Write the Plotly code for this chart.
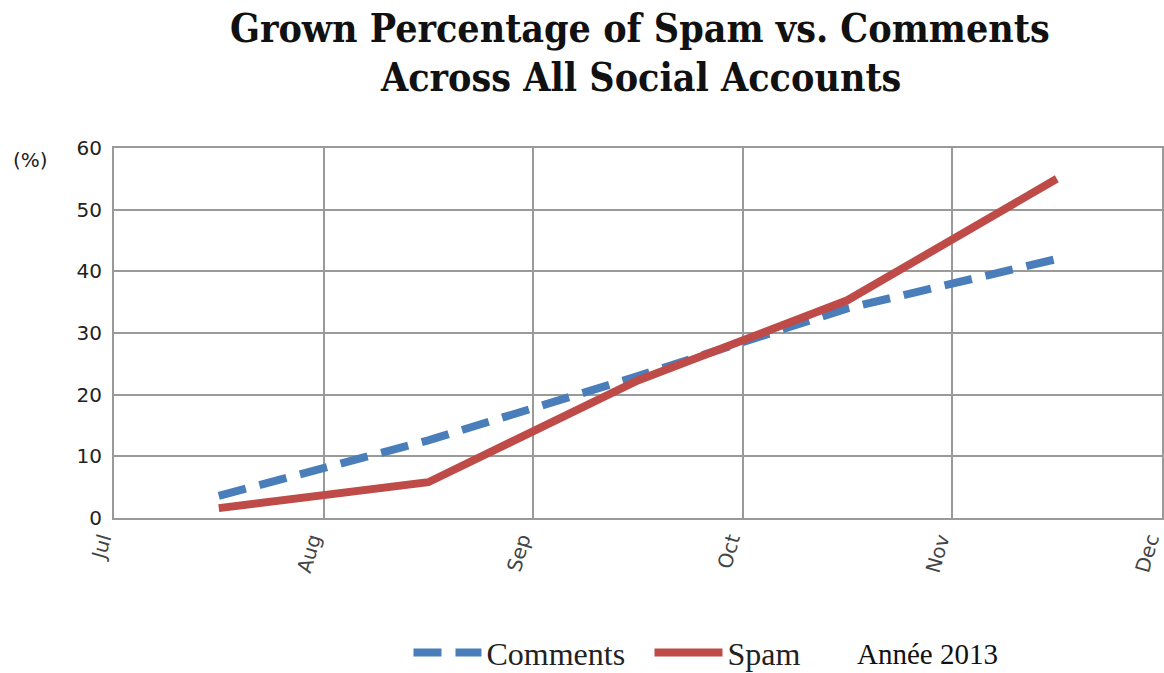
import plotly.graph_objects as go

months = ["Jul", "Aug", "Sep", "Oct", "Nov", "Dec"]
point_pos = [0.5, 1.5, 2.5, 3.5, 4.5]
comments = [3.6, 12.6, 23.0, 34.0, 42.0]
spam = [1.6, 5.8, 22.3, 35.3, 55.0]
title_lines = ["Grown Percentage of Spam vs. Comments", "Across All Social Accounts"]

fig = go.Figure()
fig.add_trace(go.Scatter(x=point_pos, y=comments, mode="lines", name="Comments",
                         line=dict(color="#4A7EBB", width=8, dash="28px,14px")))
fig.add_trace(go.Scatter(x=point_pos, y=spam, mode="lines", name="Spam",
                         line=dict(color="#BE4B48", width=8)))

fig.update_layout(
    width=1164, height=673,
    margin=dict(l=114, r=2, t=148, b=155),
    paper_bgcolor="white", plot_bgcolor="white",
    showlegend=True,
    legend=dict(orientation="h", x=0.281, xanchor="left",
                yref="container", y=0.03, yanchor="middle",
                font=dict(family="Liberation Serif, serif", size=32, color="#222"),
                itemwidth=68, entrywidth=158, tracegroupgap=0, bgcolor="rgba(0,0,0,0)"),
    xaxis=dict(range=[0, 5.002], tickvals=list(range(6)), ticktext=months,
               tickangle=-74, showgrid=True, gridcolor="#9a9a9a", gridwidth=2,
               showline=True, linecolor="#9a9a9a", linewidth=2, mirror=True,
               zeroline=False, ticks="", ticklabeloverflow="allow", automargin=False,
               ticklabelshift=-12,
               tickfont=dict(family="DejaVu Sans, sans-serif", size=20, color="#444")),
    yaxis=dict(range=[0, 60], dtick=10, showgrid=True, gridcolor="#9a9a9a", gridwidth=2,
               showline=True, linecolor="#9a9a9a", linewidth=2, mirror=True,
               zeroline=False, ticks="", ticklabelstandoff=6, automargin=False,
               tickfont=dict(family="DejaVu Sans, sans-serif", size=20, color="#222")),
)
for txt, yy in zip(title_lines, [1.324, 1.192]):
    fig.add_annotation(text="<b>" + txt + "</b>", xref="paper", yref="paper", x=0.502, y=yy,
                       xanchor="center", yanchor="middle", showarrow=False,
                       font=dict(family="DejaVu Serif Condensed, Liberation Serif, serif",
                                 size=39, color="#111"))
fig.add_annotation(text="(%)", xref="paper", yref="paper", x=-0.098, y=0.967,
                   xanchor="left", yanchor="middle", showarrow=False,
                   font=dict(family="DejaVu Sans, sans-serif", size=20, color="#222"))
fig.add_annotation(text="Année 2013", xref="paper", yref="paper", x=0.707, y=-0.368,
                   xanchor="left", yanchor="middle", showarrow=False,
                   font=dict(family="Liberation Serif, serif", size=29, color="#111"))

fig.write_html("out.html")
